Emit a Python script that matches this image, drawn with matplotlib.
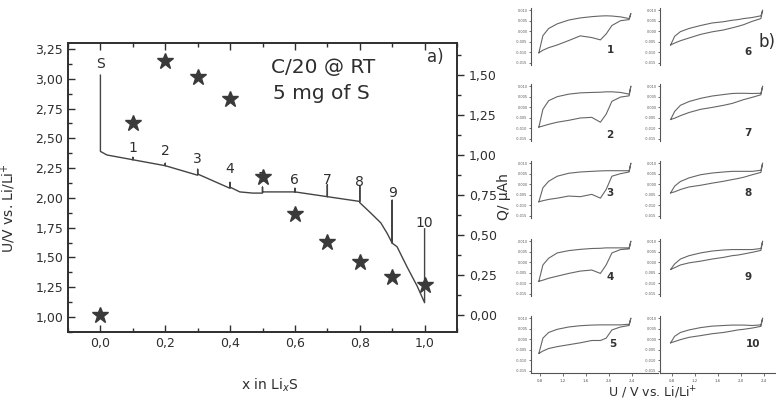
import matplotlib
matplotlib.use('Agg')
import matplotlib.pyplot as plt
from matplotlib.ticker import MultipleLocator, FuncFormatter

# ---------------- panel a) data ----------------
# discharge path (x in LixS, U vs Li/Li+), including relaxation steps
x_path = [0.0, 0.0, 0.02, 0.1, 0.1, 0.1, 0.2, 0.2, 0.2, 0.3, 0.3, 0.3,
          0.4, 0.4, 0.4, 0.43, 0.47, 0.5, 0.5, 0.5, 0.6, 0.6, 0.6,
          0.7, 0.7, 0.7, 0.8, 0.8, 0.8, 0.835, 0.865, 0.885, 0.9, 0.9, 0.9,
          0.915, 0.946, 0.977, 1.0, 1.0]
U_path = [3.03, 2.39, 2.36, 2.32, 2.34, 2.32, 2.27, 2.29, 2.27, 2.19, 2.24, 2.20,
          2.08, 2.13, 2.09, 2.05, 2.04, 2.04, 2.09, 2.05, 2.05, 2.08, 2.05,
          2.01, 2.11, 2.01, 1.97, 2.10, 1.96, 1.87, 1.79, 1.70, 1.62, 1.98, 1.62,
          1.59, 1.42, 1.26, 1.12, 1.74]
step_x = [0.0, 0.1, 0.2, 0.3, 0.4, 0.5, 0.6, 0.7, 0.8, 0.9, 1.0]
step_labels = ['S', '1', '2', '3', '4', '5', '6', '7', '8', '9', '10']
step_label_U = [3.12, 2.42, 2.39, 2.33, 2.24, 2.17, 2.15, 2.15, 2.13, 2.04, 1.79]
Q_x = [0.0, 0.1, 0.2, 0.3, 0.4, 0.5, 0.6, 0.7, 0.8, 0.9, 1.0]
Q_vals = [0.00, 1.20, 1.59, 1.49, 1.35, 0.86, 0.63, 0.455, 0.33, 0.24, 0.19]

# ---------------- panel b) data ----------------
cv_V = [0.78, 0.85, 0.95, 1.1, 1.3, 1.5, 1.7, 1.85, 1.95, 2.05, 2.2, 2.35]
cv_spike_V = 2.38
cv_names = ['1', '2', '3', '4', '5', '6', '7', '8', '9', '10']
cv_upper = [
    [-0.0102, -0.0021, 0.0013, 0.0035, 0.0053, 0.0063, 0.0069, 0.0072, 0.0073, 0.0072, 0.0068, 0.0060],
    [-0.0094, -0.0010, 0.0031, 0.0050, 0.0062, 0.0068, 0.0070, 0.0071, 0.0073, 0.0073, 0.0070, 0.0062],
    [-0.0083, -0.0017, 0.0014, 0.0038, 0.0052, 0.0058, 0.0061, 0.0063, 0.0064, 0.0064, 0.0064, 0.0064],
    [-0.0090, -0.0013, 0.0019, 0.0044, 0.0055, 0.0061, 0.0065, 0.0066, 0.0068, 0.0068, 0.0068, 0.0068],
    [-0.0067, 0.0005, 0.0032, 0.0047, 0.0058, 0.0064, 0.0067, 0.0068, 0.0068, 0.0068, 0.0068, 0.0071],
    [-0.0065, -0.0024, -0.0002, 0.0013, 0.0027, 0.0039, 0.0045, 0.0052, 0.0055, 0.0060, 0.0065, 0.0073],
    [-0.0058, -0.0020, 0.0009, 0.0027, 0.0042, 0.0053, 0.0060, 0.0065, 0.0066, 0.0066, 0.0065, 0.0066],
    [-0.0041, -0.0009, 0.0013, 0.0030, 0.0045, 0.0053, 0.0058, 0.0061, 0.0061, 0.0061, 0.0061, 0.0066],
    [-0.0034, -0.0008, 0.0015, 0.0031, 0.0044, 0.0053, 0.0058, 0.0060, 0.0060, 0.0060, 0.0060, 0.0065],
    [-0.0017, 0.0014, 0.0032, 0.0044, 0.0055, 0.0062, 0.0065, 0.0067, 0.0067, 0.0067, 0.0065, 0.0068],
]
cv_lower = [
    [-0.0102, -0.0090, -0.0078, -0.0065, -0.0044, -0.0022, -0.0030, -0.0041, -0.0013, 0.0027, 0.0050, 0.0055],
    [-0.0094, -0.0089, -0.0081, -0.0071, -0.0062, -0.0051, -0.0048, -0.0071, -0.0033, 0.0028, 0.0048, 0.0054],
    [-0.0083, -0.0078, -0.0072, -0.0066, -0.0056, -0.0059, -0.0048, -0.0066, -0.0025, 0.0038, 0.0050, 0.0058],
    [-0.0090, -0.0085, -0.0076, -0.0066, -0.0053, -0.0042, -0.0037, -0.0053, -0.0013, 0.0044, 0.0060, 0.0063],
    [-0.0067, -0.0056, -0.0044, -0.0035, -0.0026, -0.0017, -0.0006, -0.0006, 0.0005, 0.0044, 0.0058, 0.0065],
    [-0.0065, -0.0056, -0.0045, -0.0032, -0.0015, -0.0003, 0.0006, 0.0016, 0.0023, 0.0031, 0.0047, 0.0060],
    [-0.0058, -0.0052, -0.0040, -0.0025, -0.0010, -0.0001, 0.0009, 0.0018, 0.0027, 0.0036, 0.0047, 0.0059],
    [-0.0041, -0.0036, -0.0025, -0.0013, -0.0005, 0.0005, 0.0014, 0.0022, 0.0027, 0.0033, 0.0045, 0.0056],
    [-0.0034, -0.0026, -0.0013, -0.0003, 0.0005, 0.0015, 0.0023, 0.0031, 0.0034, 0.0039, 0.0047, 0.0056],
    [-0.0017, -0.0011, -0.0002, 0.0009, 0.0017, 0.0026, 0.0032, 0.0039, 0.0044, 0.0047, 0.0053, 0.0061],
]
cv_spike = [0.0084, 0.0100, 0.0100, 0.0100, 0.0100, 0.0100, 0.0100, 0.0100, 0.0100, 0.0100]
cv_yticks = [-0.015, -0.010, -0.005, 0.000, 0.005, 0.010]
cv_xticks = [0.8, 1.2, 1.6, 2.0, 2.4]

W, H = 776, 404
plt.rcParams['font.family'] = ['DejaVu Sans']
fig = plt.figure(figsize=(W / 100, H / 100), dpi=100)

def comma(fmt):
    return FuncFormatter(lambda v, p: (fmt % v).replace('.', ','))

def px_rect(l, t, r, b):
    return [l / W, 1 - b / H, (r - l) / W, (b - t) / H]

ink = '#2e2e2e'
# ---------------- panel a) ----------------
ax = fig.add_axes(px_rect(68, 43, 457, 332))
ax2 = ax.twinx()
ax.plot(x_path, U_path, color='#444444', lw=1.0)
for xs, lab, uy in zip(step_x, step_labels, step_label_U):
    ax.text(xs, uy, lab, ha='center', va='center', fontsize=10, color=ink)
ax2.plot(Q_x, Q_vals, ls='none', marker='*', ms=12, color='#3a3a3a')

ax.set_xlim(-0.1, 1.1)
ax.set_ylim(0.874, 3.30)
ax2.set_ylim(-0.106, 1.70)
ax.xaxis.set_major_locator(MultipleLocator(0.2))
ax.xaxis.set_minor_locator(MultipleLocator(0.1))
ax.yaxis.set_major_locator(MultipleLocator(0.25))
ax.yaxis.set_minor_locator(MultipleLocator(0.125))
ax2.yaxis.set_major_locator(MultipleLocator(0.25))
ax2.yaxis.set_minor_locator(MultipleLocator(0.125))
ax.xaxis.set_major_formatter(comma('%.1f'))
ax.yaxis.set_major_formatter(comma('%.2f'))
ax2.yaxis.set_major_formatter(comma('%.2f'))
ax.tick_params(axis='both', which='both', direction='in', top=True, labelsize=9,
               colors=ink, width=1.0)
ax.tick_params(which='major', length=5)
ax.tick_params(which='minor', length=3)
ax2.tick_params(axis='y', which='both', direction='out', labelsize=9, colors=ink, width=1.0)
ax2.tick_params(which='major', length=5)
ax2.tick_params(which='minor', length=3)
for a in (ax, ax2):
    for s in a.spines.values():
        s.set_linewidth(1.2)
        s.set_color(ink)

ax.set_ylabel('U/V vs. Li/Li$^{+}$', fontsize=10, color=ink)
ax.yaxis.set_label_coords(-0.128, 0.43)
ax2.set_ylabel('Q/ μAh', fontsize=10, color=ink)
ax2.yaxis.set_label_coords(1.104, 0.47)
ax.set_xlabel('x in Li$_x$S', fontsize=10, color=ink)
ax.xaxis.set_label_coords(0.519, -0.156)

ax.text(0.655, 0.915, 'C/20 @ RT', transform=ax.transAxes, ha='center', va='center',
        fontsize=14.5, color=ink)
ax.text(0.652, 0.825, '5 mg of S', transform=ax.transAxes, ha='center', va='center',
        fontsize=14.5, color=ink)
ax.text(0.945, 0.95, 'a)', transform=ax.transAxes, ha='center', va='center',
        fontsize=12, color=ink)

# ---------------- panel b) ----------------
row_tops = [8, 84, 161, 239, 316]
row_h = 57
col_edges = [(531, 658), (660, 775)]
col_xlim = [(0.643, 0.643 + 127 / 57.5), (0.595, 0.595 + 115 / 57.5)]
num_pos = [(610, 50), (610, 135), (610, 193), (610, 277), (613, 344),
           (748, 52), (748, 133), (748, 193), (748, 277), (753, 344)]
for k in range(10):
    col = k // 5
    row = k % 5
    l, r = col_edges[col]
    t = row_tops[row]
    a = fig.add_axes(px_rect(l, t, r, t + row_h))
    up = cv_upper[k]
    lo = cv_lower[k]
    xs = list(cv_V) + [cv_spike_V, cv_V[-1]] + list(cv_V[::-1])
    ys = list(up) + [cv_spike[k], lo[-1]] + list(lo[::-1])
    a.plot(xs, ys, color='#666666', lw=0.8)
    a.set_xlim(*col_xlim[col])
    a.set_ylim(-0.016, 0.011)
    a.set_yticks(cv_yticks)
    a.yaxis.set_major_formatter(comma('%.3f'))
    a.tick_params(axis='y', labelsize=2.5, length=1.5, width=0.6, pad=1, colors='#555555')
    for s in ('top', 'right'):
        a.spines[s].set_visible(False)
    a.spines['left'].set_linewidth(0.8)
    a.spines['left'].set_color('#555555')
    if row == 4:
        a.set_xticks(cv_xticks)
        a.xaxis.set_major_formatter(comma('%.1f'))
        a.tick_params(axis='x', labelsize=2.8, length=2, width=0.6, pad=2, colors='#555555')
        a.spines['bottom'].set_linewidth(0.8)
        a.spines['bottom'].set_color('#555555')
    else:
        a.spines['bottom'].set_visible(False)
        a.set_xticks([])
    a.patch.set_alpha(0)
    px, py = num_pos[k]
    fig.text(px / W, 1 - py / H, cv_names[k], ha='center', va='center',
             fontsize=7.5, fontweight='bold', color='#333333')

fig.text(767 / W, 1 - 42 / H, 'b)', ha='center', va='center', fontsize=12, color=ink)
fig.text(653 / W, 1 - 393 / H, 'U / V vs. Li/Li$^{+}$', ha='center', va='center',
         fontsize=9, color=ink)

fig.savefig('out.png', dpi=100)
